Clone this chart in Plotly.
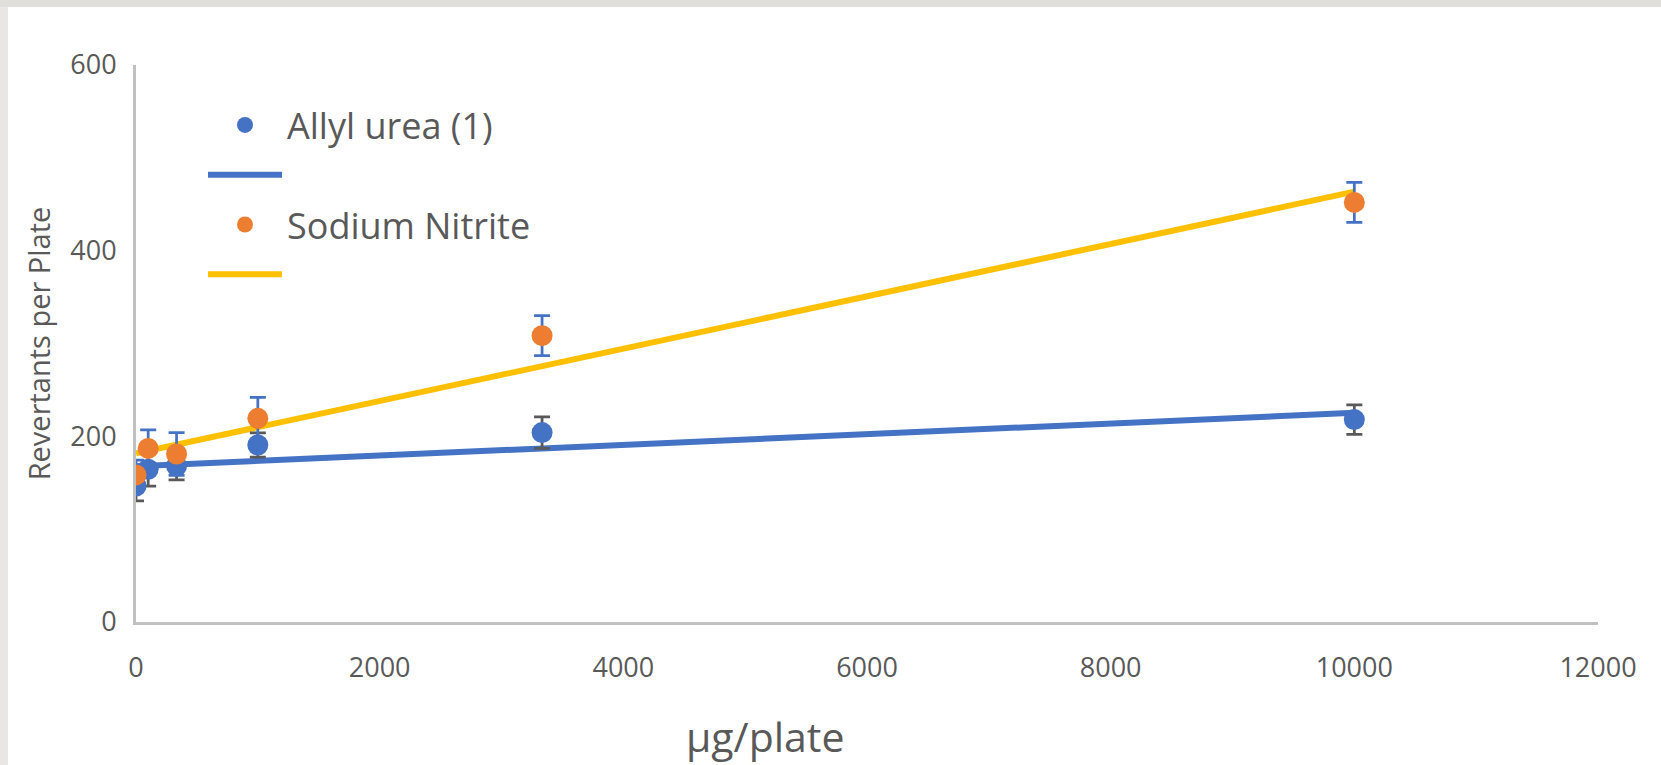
import numpy as np
import plotly.graph_objects as go

# ---- data ----
dose = [0, 100, 333, 1000, 3333, 10000]
allyl_urea = [146.5, 164.5, 168, 190.7, 204, 218]
allyl_urea_err = [16, 18, 15, 13, 17, 16]
sodium_nitrite = [158.4, 187, 181, 219.4, 308.4, 452]
sodium_nitrite_err = [16, 20, 23, 22.6, 21.5, 21.5]
series_names = ["Allyl urea (1)", "Sodium Nitrite"]
x_ticks = [0, 2000, 4000, 6000, 8000, 10000, 12000]
x_tick_labels = ["0", "2000", "4000", "6000", "8000", "10000", "12000"]
y_ticks = [0, 200, 400, 600]
y_tick_labels = ["0", "200", "400", "600"]

# ---- styling ----
W, H = 1661, 765
L, R, T, B = 136, 63, 65, 143
BLUE = "#4472C4"
ORANGE = "#ED7D31"
YELLOW = "#FFC000"
GRAY_ERR = "#595959"
TEXT = "#595959"
AXIS = "#C0C0C0"
FONT = "Open Sans"

pw, ph = W - L - R, H - T - B


def px(xp):
    return (xp - L) / pw


def py(yp):
    return (H - B - yp) / ph


def trend(xs, ys):
    k, b = np.polyfit(xs, ys, 1)
    xt = [xs[0], xs[-1]]
    return xt, [k * v + b for v in xt]


fig = go.Figure()

xt, yt = trend(dose, allyl_urea)
fig.add_trace(go.Scatter(x=xt, y=yt, mode="lines", name=" ", legendrank=2,
                         line=dict(color=BLUE, width=6), hoverinfo="skip"))
xt2, yt2 = trend(dose, sodium_nitrite)
fig.add_trace(go.Scatter(x=xt2, y=yt2, mode="lines", name="  ", legendrank=4,
                         line=dict(color=YELLOW, width=6), hoverinfo="skip"))

fig.add_trace(go.Scatter(
    x=dose, y=allyl_urea, mode="markers", name=series_names[0], legendrank=1,
    marker=dict(color=BLUE, size=21),
    error_y=dict(type="data", array=allyl_urea_err, visible=True,
                 color=GRAY_ERR, thickness=2.75, width=8)))
fig.add_trace(go.Scatter(
    x=dose, y=sodium_nitrite, mode="markers", name=series_names[1], legendrank=3,
    marker=dict(color=ORANGE, size=21),
    error_y=dict(type="data", array=sodium_nitrite_err, visible=True,
                 color=BLUE, thickness=2.75, width=8)))

axis_common = dict(showgrid=False, zeroline=False, showline=True,
                   linecolor=AXIS, linewidth=3, ticks="",
                   tickfont=dict(family=FONT, size=27, color=TEXT))

fig.update_xaxes(range=[0, 12000], tickvals=x_ticks, ticktext=x_tick_labels,
                 ticklabelstandoff=20, **axis_common)
fig.update_yaxes(range=[0, 600], tickvals=y_ticks, ticktext=y_tick_labels,
                 ticklabelstandoff=11,
                 title=dict(text="Revertants per Plate",
                            font=dict(family=FONT, size=29, color=TEXT),
                            standoff=12),
                 **axis_common)

shapes = [
    dict(type="rect", xref="paper", yref="paper", x0=px(0), x1=px(W),
         y0=py(7), y1=py(0), fillcolor="#E0DFDC", line_width=0, layer="below"),
    dict(type="rect", xref="paper", yref="paper", x0=px(0), x1=px(8),
         y0=py(H), y1=py(7), fillcolor="#E8E7E4", line_width=0, layer="below"),
]

fig.update_layout(
    width=W, height=H,
    margin=dict(l=L, r=R, t=T, b=B, autoexpand=False),
    paper_bgcolor="white", plot_bgcolor="white",
    font=dict(family=FONT, color=TEXT),
    shapes=shapes,
    showlegend=True,
    legend=dict(x=px(203), y=py(95), xanchor="left", yanchor="top",
                bgcolor="rgba(0,0,0,0)", itemwidth=74,
                font=dict(family=FONT, size=36, color=TEXT),
                traceorder="normal"),
    annotations=[dict(text="µg/plate", xref="paper", yref="paper",
                      x=px(765), y=py(736), xanchor="center", yanchor="middle",
                      showarrow=False,
                      font=dict(family=FONT, size=41, color=TEXT))],
)

fig.write_html("out.html",
               config={"displayModeBar": False},
               post_script="document.body.style.margin='0';"
                           "document.body.style.overflow='hidden';")
